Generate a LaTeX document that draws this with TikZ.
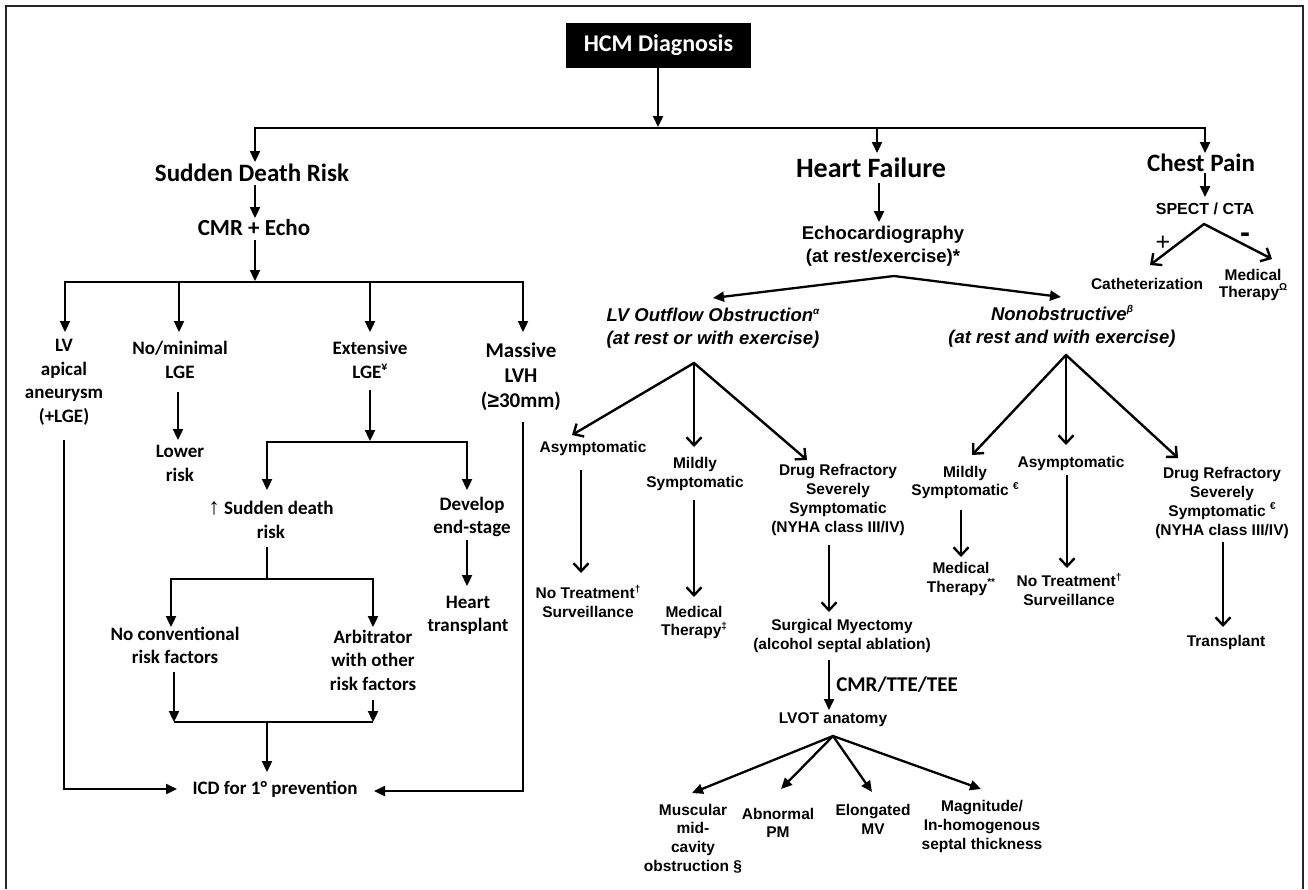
\documentclass[tikz,border=0pt]{standalone}
\usepackage{fontspec}
\setmainfont{Carlito}
\newfontfamily\ari{Liberation Sans}
\usetikzlibrary{arrows.meta}
\newcommand{\supx}[2][10]{\raisebox{0.42em}{\fontsize{#1}{#1}\selectfont #2}}
\begin{document}
\begin{tikzpicture}[x=1pt,y=-1pt,
  cb/.style={font=\fontsize{19}{23.5}\selectfont\bfseries, align=center, inner sep=0pt},
  ab/.style={font=\ari\fontsize{15.5}{18.7}\selectfont\bfseries, align=center, inner sep=0pt},
  abi/.style={font=\ari\fontsize{18.5}{23}\selectfont\bfseries\itshape, align=center, inner sep=0pt},
  ln/.style={line width=2.3pt},
  fa/.style={ln, -{Triangle[length=11pt,width=10pt]}},
  fab/.style={ln, line join=miter, {Triangle[length=11pt,width=10pt]}-{Triangle[length=11pt,width=10pt]}},
  va/.style={line width=2.4pt, -{Straight Barb[length=8pt,width=15pt]}},
  vab/.style={line width=2.4pt, line join=miter, {Straight Barb[length=8pt,width=15pt]}-{Straight Barb[length=8pt,width=15pt]}},
  bus/.style={ln, line cap=rect}]
\useasboundingbox (0,0) rectangle (1308,889);
\fill[white] (0,0) rectangle (1308,889);
\draw[line width=2.2pt, black!85] (6,889) -- (6,6) -- (1303,6) -- (1303,889);

% ---------- nodes: left (Carlito) ----------
\node[fill=black, text=white, font=\fontsize{24}{28}\selectfont\bfseries, minimum width=185pt, minimum height=45pt, inner sep=0pt] (hcm) at (658.5,45.5) {HCM Diagnosis};
\node[cb, font=\fontsize{25}{30}\selectfont\bfseries] (sdr) at (252,173) {Sudden Death Risk};
\node[cb, font=\fontsize{23}{28}\selectfont\bfseries] (cmr) at (254,228) {CMR + Echo};
\node[cb] (lvaa) at (64,382.5) {LV\\apical\\aneurysm\\(+LGE)};
\node[cb] (nomin) at (180,360) {No/minimal\\LGE};
\node[cb] (lower) at (180,463.5) {Lower\\risk};
\node[cb] (ext) at (370,360) {Extensive\\LGE\supx[12]{¥}};
\node[cb, font=\fontsize{21}{25}\selectfont\bfseries] (mlvh) at (521,377) {Massive\\LVH\\({\ari ≥}30mm)};
\node[cb] (usd) at (271,520) {{\ari\fontsize{23}{23}\selectfont ↑} Sudden death\\risk};
\node[cb] (dev) at (472,517) {Develop\\end-stage};
\node[cb] (htx) at (468,615.5) {Heart\\transplant};
\node[cb] (nocv) at (175,645.5) {No conventional\\risk factors};
\node[cb] (arb) at (373,660) {Arbitrator\\with other\\risk factors};
\node[cb] (icd) at (275,789) {ICD for 1° prevention};
\node[cb, font=\fontsize{28}{32}\selectfont\bfseries] (hf) at (871,168) {Heart Failure};
\node[cb, font=\fontsize{25}{30}\selectfont\bfseries] (cp) at (1201,163) {Chest Pain};
\node[cb, font=\fontsize{21}{25}\selectfont\bfseries] (cte) at (897,685) {CMR/TTE/TEE};

% ---------- nodes: right (Arial-like) ----------
\node[ab, font=\ari\fontsize{18.5}{23}\selectfont\bfseries] (echo) at (883,246.5) {Echocardiography\\(at rest/exercise)*};
\node[ab, font=\ari\fontsize{16}{19}\selectfont\bfseries] (spect) at (1205,209) {SPECT / CTA};
\node[ab, font=\ari\fontsize{25}{25}\selectfont] (plus) at (1163,243) {+};
\node[ab, font=\ari\fontsize{30}{30}\selectfont\bfseries] (minus) at (1245,238) {-};
\node[ab] (cath) at (1147,284) {Catheterization};
\node[ab, font=\ari\fontsize{15.5}{17}\selectfont\bfseries] (medt) at (1253,284.5) {Medical\\Therapy\supx{Ω}};
\node[abi] (lvo) at (713,328.5) {LV Outflow Obstruction\supx{α}\\(at rest or with exercise)};
\node[abi] (nonob) at (1062,326.5) {Nonobstructive\supx{β}\\(at rest and with exercise)};
\node[ab] (asym1) at (593,448) {Asymptomatic};
\node[ab] (notr1) at (588,601.5) {No Treatment\supx{†}\\Surveillance};
\node[ab] (mild1) at (695,474) {Mildly\\Symptomatic};
\node[ab] (med1) at (694,622.5) {Medical\\Therapy\supx{‡}};
\node[ab] (drug1) at (838,500) {Drug Refractory\\Severely\\Symptomatic\\(NYHA class III/IV)};
\node[ab] (surg) at (842,636) {Surgical Myectomy\\(alcohol septal ablation)};
\node[ab] (lvot) at (833,720) {LVOT anatomy};
\node[ab] (musc) at (693,838.5) {Muscular\\mid-\\cavity\\obstruction §};
\node[ab] (abn) at (778,823) {Abnormal\\PM};
\node[ab] (elong) at (873,819.5) {Elongated\\MV};
\node[ab] (magn) at (982,826.5) {Magnitude/\\In-homogenous\\septal thickness};
\node[ab] (mild2) at (965,482.5) {Mildly\\Symptomatic \supx{€}};
\node[ab] (med2) at (961,579) {Medical\\Therapy\supx{**}};
\node[ab] (asym2) at (1071,463) {Asymptomatic};
\node[ab] (notr2) at (1069,589.5) {No Treatment\supx{†}\\Surveillance};
\node[ab] (drug2) at (1222,503) {Drug Refractory\\Severely\\Symptomatic \supx{€}\\(NYHA class III/IV)};
\node[ab] (tx) at (1226,642) {Transplant};

% ---------- junction coordinates ----------
\coordinate (b1l) at (255,128);  \coordinate (b1r) at (1205,128);
\coordinate (b2l) at (65,282);   \coordinate (b2r) at (523,282);
\coordinate (b3l) at (267,442);  \coordinate (b3r) at (467,442);
\coordinate (b4l) at (171,579);  \coordinate (b4r) at (373,579);
\coordinate (b5l) at (174,722);  \coordinate (b5r) at (373,722);
\coordinate (echoA) at (894,276);
\coordinate (spA) at (1204,224);
\coordinate (lvoA) at (694,363);
\coordinate (nonA) at (1066,355);
\coordinate (lvotA) at (833,736);

% ---------- connectors: top ----------
\draw[fa] (hcm.south -| 658,0) -- (658,127);
\draw[bus] (b1l) -- (b1r);
\draw[fa] (b1l) -- (255,162);
\draw[fa] (877,128) -- (877,153);
\draw[fa] (b1r) -- (1205,153);

% ---------- sudden death branch ----------
\draw[fa] (255,185) -- (255,218);
\draw[fa] (255,240) -- (255,281);
\draw[bus] (b2l) -- (b2r);
\foreach \x in {65,179,370,523} \draw[fa] (\x,282) -- (\x,332);
\draw[fa] (178,392) -- (178,440);
\draw[fa] (370,390) -- (370,441);
\draw[bus] (b3l) -- (b3r);
\draw[fa] (b3l) -- (267,490);
\draw[fa] (b3r) -- (467,490);
\draw[fa] (467,540) -- (467,586);
\draw[ln] (267,547) -- (267,579);
\draw[bus] (b4l) -- (b4r);
\draw[fa] (b4l) -- (171,627);
\draw[fa] (b4r) -- (373,627);
\draw[fa] (174,672) -- (b5l);
\draw[fa] (373,700) -- (b5r);
\draw[ln] (b5l) -- (b5r);
\draw[fa] (267,722) -- (267,772);
\draw[fa, line join=miter] (64,440) -- (64,789) -- (177,789);
\draw[fa, line join=miter] (523,422) -- (523,791) -- (374,791);

% ---------- heart failure branch ----------
\draw[fa] (879,183) -- (879,222);
\draw[fab] (713,298) -- (echoA) -- (1061,297);
\draw[vab] (572,435) -- (lvoA) -- (807,460);
\draw[va] (lvoA) -- (694,447);
\draw[va] (581,470) -- (581,573);
\draw[va] (694,500) -- (694,597);
\draw[va] (829,545) -- (829,612);
\draw[fa] (829,660) -- (829,710);
\draw[fab] (692,793) -- (lvotA) -- (981,789);
\draw[fa] (lvotA) -- (781,789);
\draw[fa] (lvotA) -- (872,792);
\draw[vab] (972,455) -- (nonA) -- (1178,458);
\draw[va] (nonA) -- (1066,445);
\draw[va] (961,510) -- (961,557);
\draw[va] (1067,475) -- (1067,568);
\draw[va] (1223,542) -- (1223,627);

% ---------- chest pain branch ----------
\draw[fa] (1205,173) -- (1205,197);
\draw[vab] (1150,265) -- (spA) -- (1272,259);
\end{tikzpicture}
\end{document}
